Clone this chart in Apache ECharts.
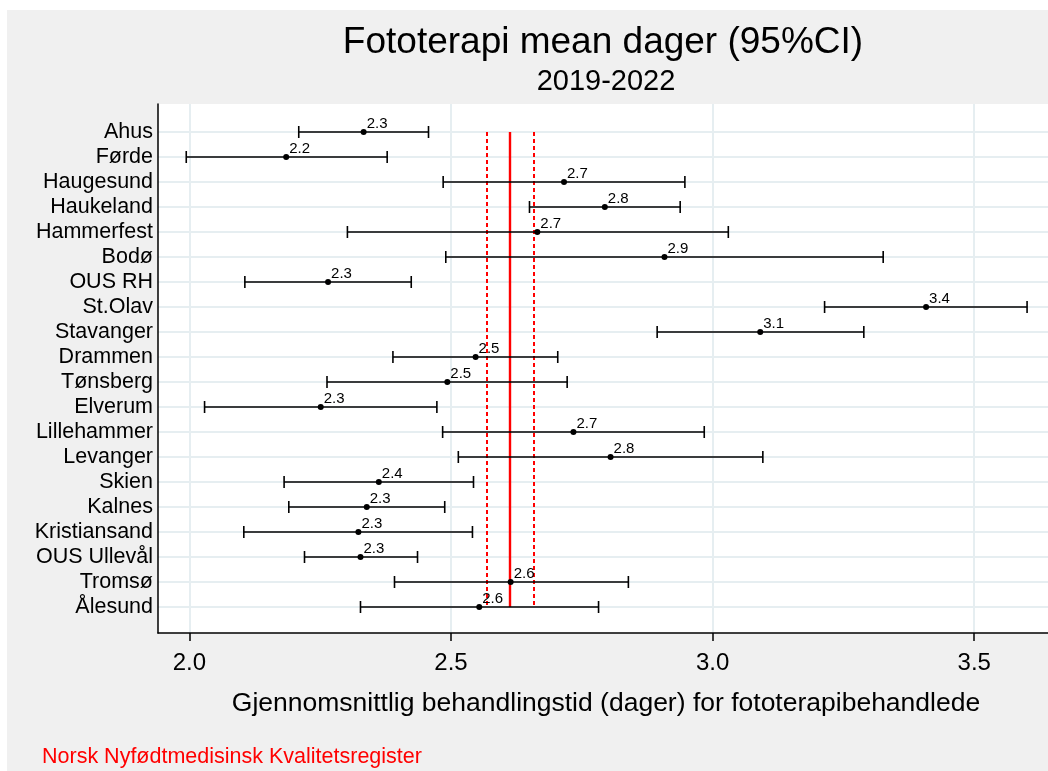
<!DOCTYPE html>
<html>
<head>
    <meta charset="utf-8">
    <title>Fototerapi mean dager</title>
    <script src="https://cdn.jsdelivr.net/npm/echarts@6/dist/echarts.min.js"></script>
    <style type="text/css">
        html, body { margin: 0; padding: 0; background: #fff; }
        #chart { width: 1048px; height: 771px; }
    </style>
</head>
<body>
    <div id="chart"></div>
    <script>
        // sykehus, ovenfra og ned
        var hospitals = ['Ahus', 'Førde', 'Haugesund', 'Haukeland', 'Hammerfest', 'Bodø', 'OUS RH',
            'St.Olav', 'Stavanger', 'Drammen', 'Tønsberg', 'Elverum', 'Lillehammer', 'Levanger',
            'Skien', 'Kalnes', 'Kristiansand', 'OUS Ullevål', 'Tromsø', 'Ålesund'];
        var means = [2.333, 2.185, 2.716, 2.794, 2.665, 2.908, 2.265, 3.408, 3.091, 2.547,
            2.493, 2.251, 2.734, 2.805, 2.362, 2.339, 2.323, 2.327, 2.614, 2.554];
        var lower = [2.209, 1.994, 2.485, 2.650, 2.302, 2.490, 2.106, 3.214, 2.894, 2.389,
            2.263, 2.029, 2.484, 2.514, 2.181, 2.190, 2.104, 2.220, 2.392, 2.327];
        var upper = [2.457, 2.378, 2.947, 2.938, 3.030, 3.326, 2.424, 3.601, 3.289, 2.704,
            2.722, 2.473, 2.984, 3.096, 2.543, 2.488, 2.541, 2.436, 2.839, 2.782];
        var xTicks = [2.0, 2.5, 3.0, 3.5];
        // landsgjennomsnitt med 95% KI
        var totalMean = 2.613;
        var totalLow = 2.569;
        var totalHigh = 2.658;

        var rows = [];
        var rowIdx = [];
        for (var i = 0; i < hospitals.length; i++) {
            rows.push([lower[i], upper[i], means[i], i]);
            rowIdx.push(i);
        }

        var font = '"Liberation Sans", Arial, Helvetica, sans-serif';

        function renderBar(params, api) {
            var lo = api.coord([api.value(0), api.value(3)]);
            var hi = api.coord([api.value(1), api.value(3)]);
            var mid = api.coord([api.value(2), api.value(3)]);
            var cap = 6;
            var st = { stroke: '#000', lineWidth: 1.6 };
            return {
                type: 'group',
                children: [
                    { type: 'line', shape: { x1: lo[0], y1: lo[1], x2: hi[0], y2: hi[1] }, style: st },
                    { type: 'line', shape: { x1: lo[0], y1: lo[1] - cap, x2: lo[0], y2: lo[1] + cap }, style: st },
                    { type: 'line', shape: { x1: hi[0], y1: hi[1] - cap, x2: hi[0], y2: hi[1] + cap }, style: st },
                    { type: 'circle', shape: { cx: mid[0], cy: mid[1], r: 3 }, style: { fill: '#000' } },
                    {
                        type: 'text',
                        style: {
                            text: api.value(2).toFixed(1), x: mid[0] + 3, y: mid[1] - 16,
                            fill: '#000', fontSize: 15, fontFamily: font
                        }
                    }
                ]
            };
        }

        var chart = echarts.init(document.getElementById('chart'));
        var option = {
            backgroundColor: '#fff',
            animation: false,
            graphic: [
                { type: 'rect', z: -10, shape: { x: 7, y: 10, width: 1041, height: 761 }, style: { fill: '#f0f0f0' } },
                { type: 'text', style: { text: 'Fototerapi mean dager (95%CI)', x: 603, y: 43, align: 'center', verticalAlign: 'middle', fontSize: 37, fontFamily: font, fill: '#000' } },
                { type: 'text', style: { text: '2019-2022', x: 606, y: 82, align: 'center', verticalAlign: 'middle', fontSize: 29, fontFamily: font, fill: '#000' } },
                { type: 'text', style: { text: 'Norsk Nyfødtmedisinsk Kvalitetsregister', x: 42, y: 757, align: 'left', verticalAlign: 'middle', fontSize: 21.5, fontFamily: font, fill: '#ff0000' } }
            ],
            grid: {
                left: 158, right: 0, top: 104, bottom: 138,
                show: true, backgroundColor: '#fff', borderWidth: 0
            },
            xAxis: {
                type: 'value',
                min: 1.94,
                max: 3.641,
                name: 'Gjennomsnittlig behandlingstid (dager) for fototerapibehandlede',
                nameLocation: 'middle',
                nameGap: 57,
                nameTextStyle: { fontSize: 26.5, fontFamily: font, color: '#000', padding: [0, 0, 0, 6] },
                axisLine: { onZero: false, lineStyle: { color: '#000', width: 1.5 } },
                axisTick: { show: true, length: 8, customValues: xTicks, lineStyle: { color: '#000', width: 1.5 } },
                axisLabel: {
                    customValues: xTicks, margin: 18, fontSize: 24, fontFamily: font, color: '#000',
                    formatter: function (v) { return v.toFixed(1); }
                },
                splitLine: { show: true, lineStyle: { color: '#e6eef1', width: 2 } }
            },
            yAxis: {
                type: 'value',
                inverse: true,
                min: -1.12,
                max: 20.04,
                axisLine: { show: true, onZero: false, lineStyle: { color: '#000', width: 1.5 } },
                axisTick: { show: false, customValues: rowIdx },
                axisLabel: {
                    customValues: rowIdx, margin: 5, fontSize: 21.5, fontFamily: font, color: '#000',
                    formatter: function (v) { return hospitals[Math.round(v)]; }
                },
                splitLine: { show: true, lineStyle: { color: '#e6eef1', width: 2 } }
            },
            series: [
                {
                    type: 'custom',
                    renderItem: renderBar,
                    encode: { x: [0, 1, 2], y: 3 },
                    data: rows,
                    z: 5,
                    markLine: {
                        silent: true,
                        symbol: 'none',
                        label: { show: false },
                        data: [
                            [{ coord: [totalMean, 0], lineStyle: { color: '#ff0000', width: 2.4, type: 'solid' } }, { coord: [totalMean, 19] }],
                            [{ coord: [totalLow, 0], lineStyle: { color: '#ff0000', width: 2, type: [4, 3] } }, { coord: [totalLow, 19] }],
                            [{ coord: [totalHigh, 0], lineStyle: { color: '#ff0000', width: 2, type: [4, 3] } }, { coord: [totalHigh, 19] }]
                        ]
                    }
                }
            ]
        };
        chart.setOption(option);
    </script>
</body>
</html>
